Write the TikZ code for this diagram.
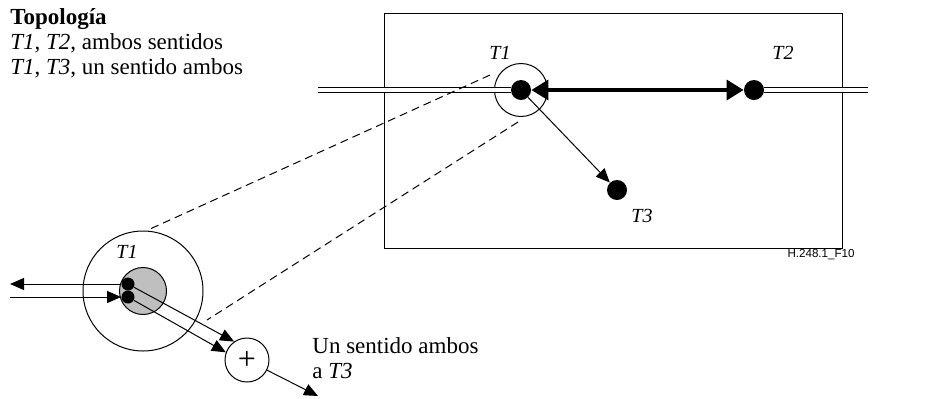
\documentclass[tikz,border=0pt]{standalone}
\usepackage{fontspec}
\setmainfont{Liberation Serif}
\setsansfont{Liberation Sans}
\usetikzlibrary{arrows.meta}

\begin{document}
\begin{tikzpicture}[x=0.5pt,y=-0.5pt,
		dot/.style={circle,fill=black,inner sep=0pt,minimum size=10pt},
		smalldot/.style={circle,fill=black,inner sep=0pt,minimum size=6.5pt},
		ring/.style={circle,draw=black,line width=0.5pt,inner sep=0pt},
		lbl/.style={font=\fontsize{10}{12}\selectfont\itshape,inner sep=0pt},
		txt/.style={font=\fontsize{11.5}{12.5}\selectfont,align=left,inner sep=0pt,anchor=base west},
		flow/.style={line width=0.5pt,-{Triangle[length=7pt,width=6pt]}},
		bidir/.style={line width=1.75pt,{Triangle[length=8.5pt,width=10pt]}-{Triangle[length=8.5pt,width=10pt]}},
		wire/.style={double,line width=0.75pt,double distance=1.75pt},
		zoomline/.style={line width=0.5pt,dash pattern=on 4pt off 2.5pt}]
			\path[use as bounding box] (0,0) rectangle (948,398);
			\draw [black,line width=0.5pt] (384,13) rectangle (842,248);
			\node[dot] (t1) at (521,90) {};
			\node[ring,minimum size=26.5pt] (t1ring) at (521,90) {};
			\node[dot] (t2) at (754,90) {};
			\node[dot] (t3) at (617,190) {};
			\node[lbl] (t1lbl) at (500,53) {T1};
			\node[lbl] (t2lbl) at (783,53) {T2};
			\node[lbl] (t3lbl) at (642,216) {T3};
			\coordinate (wl) at (318,90);
			\coordinate (wr) at (868,90);
			\draw [wire] (wl) -- (t1);
			\draw [wire] (t2) -- (wr);
			\draw [bidir] (t1) -- (t2);
			\draw [flow] (t1) -- (t3);
			\node[txt] (topo) at (10,74) {\textbf{Topología}\\\textit{T1}, \textit{T2}, ambos sentidos\\\textit{T1}, \textit{T3}, un sentido ambos};
			\node[font=\sffamily\fontsize{5.8}{7}\selectfont,anchor=east,inner sep=0pt] (fig) at (855,255) {H.248.1\_F10};
			\node[ring,minimum size=60pt] (bigring) at (143,291) {};
			\node[ring,fill=gray!50,minimum size=23.5pt] (core) at (143,291) {};
			\node[smalldot] (sa) at (128,284) {};
			\node[smalldot] (sb) at (128,297) {};
			\node[lbl] (t1zlbl) at (127,252) {T1};
			\node[ring,minimum size=22pt,font=\fontsize{16}{16}\selectfont] (plus) at (247,360) {+};
			\coordinate (za) at (490,75);
			\coordinate (zb) at (150,229);
			\coordinate (zc) at (518,122);
			\coordinate (zd) at (207,320);
			\draw [zoomline] (za) -- (zb);
			\draw [zoomline] (zc) -- (zd);
			\coordinate (outl) at (10,284);
			\coordinate (inl) at (10,297);
			\coordinate (outd) at (318,396);
			\draw [flow] (sa) -- (outl);
			\draw [flow] (inl) -- (sb);
			\draw [flow] (sa) -- (plus.125);
			\draw [flow] (sb) -- (plus.160);
			\draw [flow] (plus) -- (outd);
			\node[txt] (note) at (312,378) {Un sentido ambos\\a \textit{T3}};
\end{tikzpicture}
\end{document}
